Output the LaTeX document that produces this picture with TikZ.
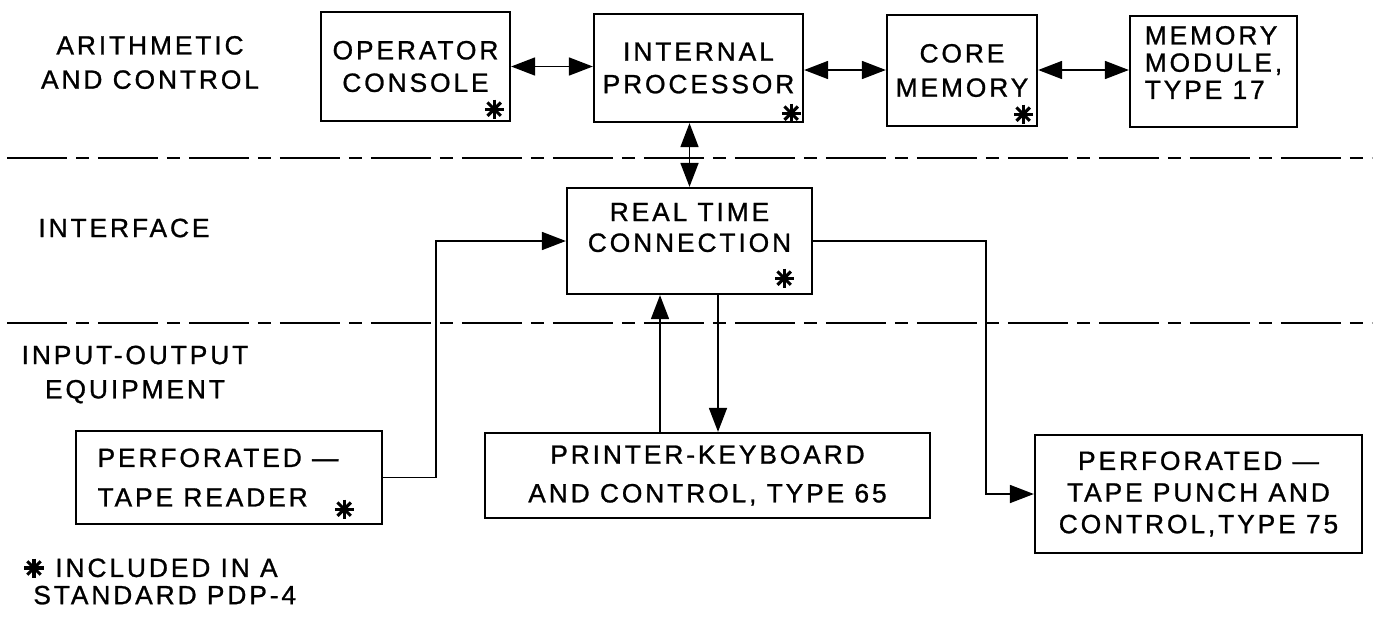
\documentclass[tikz,border=0pt]{standalone}
\usepackage{fontspec}
\usepackage{tikz}
\usetikzlibrary{arrows.meta}
\newfontfamily\lettering[LetterSpace=11,FakeBold=1]{Liberation Sans}
\newcommand\lfont[1]{\lettering\fontsize{15}{#1}\selectfont}

\begin{document}
\begin{tikzpicture}[
box/.style={draw,line width=1.3pt,inner sep=0pt,align=center,font=\lfont{18.5}},
lbl/.style={inner sep=0pt,align=center,font=\lfont{19.5}},
link/.style={line width=1pt},
both/.style={link,{Triangle[length=4.8mm,width=3.6mm]}-{Triangle[length=4.8mm,width=3.6mm]}},
feed/.style={link,-{Triangle[length=4.8mm,width=3.6mm]}},
divider/.style={line width=1.1pt,dash pattern=on 1.2cm off 0.18cm on 0.26cm off 0.18cm},
incl/.pic={\foreach \a in {0,45,90,135} \draw[line width=1.8pt] (\a:0.19) -- (\a+180:0.19);}
]
\useasboundingbox (0,0) rectangle (27.56,-12.58);

% levels
\node at (3.0,-1.25) [lbl] (arith) {ARITHMETIC\\AND CONTROL};
\node at (2.48,-4.56) [lbl] (iface) {INTERFACE};
\node at (2.7,-7.49) [lbl] (io) {INPUT-OUTPUT\\EQUIPMENT};

\draw[divider] (0.14,-3.16) -- (27.44,-3.16);
\draw[divider] (0.14,-6.46) -- (27.44,-6.46);

% arithmetic and control
\node at (8.31,-1.33) [box,minimum width=3.78cm,minimum height=2.18cm] (oc) {OPERATOR\\CONSOLE};
\node at (13.97,-1.36) [box,minimum width=4.18cm,minimum height=2.16cm] (ip) {INTERNAL\\PROCESSOR};
\node at (19.24,-1.41) [box,minimum width=3.0cm,minimum height=2.22cm,font=\lfont{19.5}] (cm) {CORE\\MEMORY};
\node at (24.27,-1.43) [box,minimum width=3.34cm,minimum height=2.22cm,
  label={[lbl,align=left,font=\lfont{15.5},yshift=0.18cm,name=mmtext]center:MEMORY\\MODULE,\\TYPE 17}] (mm) {};

% interface
\node at (13.79,-4.82) [box,minimum width=4.9cm,minimum height=2.12cm,
  label={[lbl,font=\lfont{17.5},yshift=0.27cm,name=rtctext]center:REAL TIME\\CONNECTION}] (rtc) {};

% input-output
\node at (4.58,-9.55) [box,minimum width=6.12cm,minimum height=1.86cm,align=left,font=\lfont{22.5}] (reader) {PERFORATED —\hspace*{0.44cm}\\TAPE READER};
\node at (14.15,-9.51) [box,minimum width=8.9cm,minimum height=1.70cm,font=\lfont{22}] (pk) {PRINTER-KEYBOARD\\AND CONTROL, TYPE 65};
\node at (23.97,-9.88) [box,minimum width=6.54cm,minimum height=2.36cm,font=\lfont{18}] (punch) {PERFORATED —\\TAPE PUNCH AND\\CONTROL,TYPE 75};

\draw[both] (oc.east) -- (oc.east -| ip.west);
\draw[both] (cm.west |- 0,-1.40) -- (ip.east |- 0,-1.40);
\draw[both] (cm.east |- 0,-1.40) -- (mm.west |- 0,-1.40);
\draw[both] (rtc.north) -- (rtc.north |- ip.south);
\draw[feed] (reader.east) -- ++(1.06,0) |- (rtc.west);
\draw[feed] (rtc.east) -- ++(3.46,0) |- (punch.west);
\draw[feed] ([xshift=-0.95cm]pk.north) -- ([xshift=-0.95cm]pk.north |- rtc.south);
\draw[feed] ([xshift=0.57cm]rtc.south) -- ([xshift=0.57cm]rtc.south |- pk.north);

% marks
\pic at ([shift={(-0.34,0.26)}]oc.south east) {incl};
\pic at ([shift={(-0.26,0.2)}]ip.south east) {incl};
\pic at ([shift={(-0.30,0.26)}]cm.south east) {incl};
\pic at ([shift={(-0.58,0.34)}]rtc.south east) {incl};
\pic at ([shift={(-0.78,0.32)}]reader.south east) {incl};

\pic at (0.68,-11.36) {incl};
\node at (0.66,-11.63) [lbl,align=left,anchor=west,font=\lfont{15.5}] (note) {\hspace*{0.44cm}INCLUDED IN A\\STANDARD PDP-4};
\end{tikzpicture}
\end{document}
